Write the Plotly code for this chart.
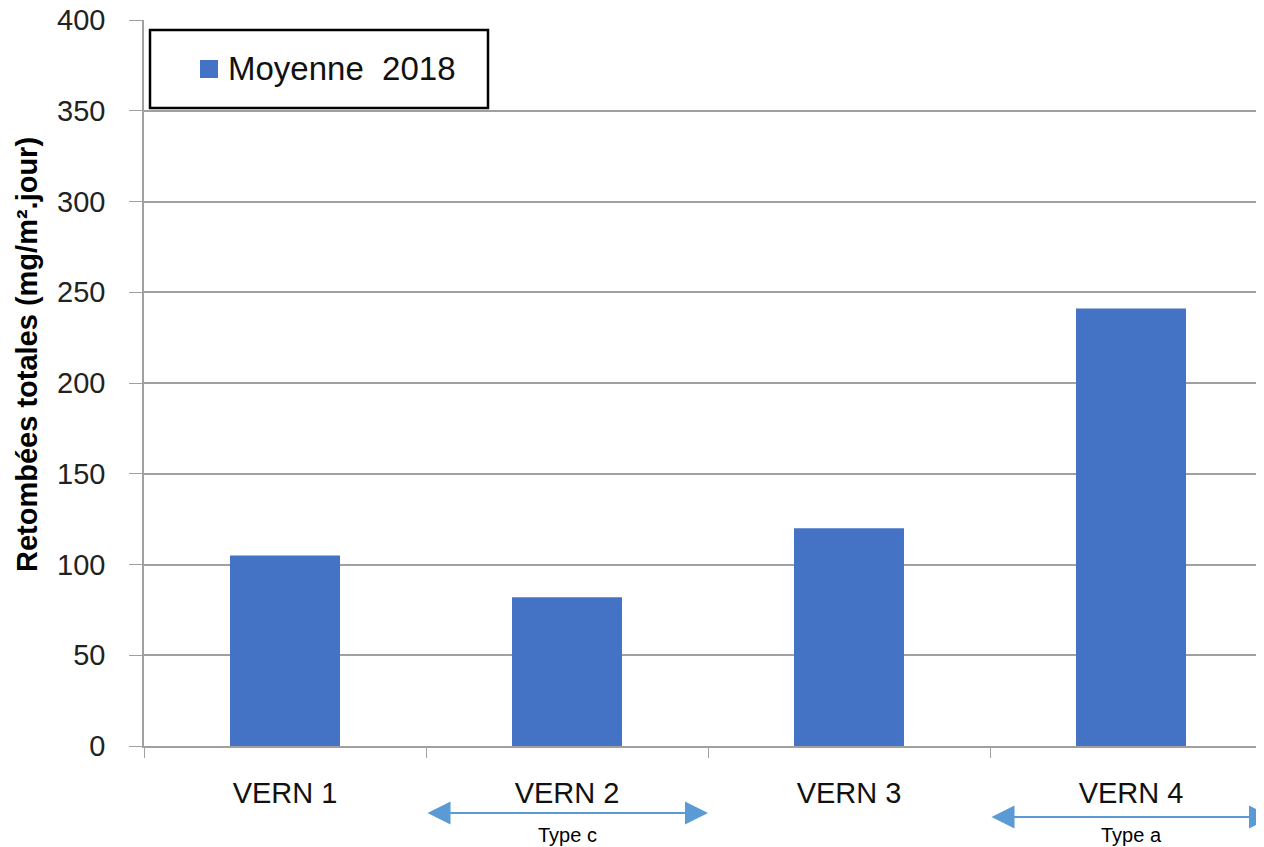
import plotly.graph_objects as go

categories = ["VERN 1", "VERN 2", "VERN 3", "VERN 4"]
values = [105, 82, 120, 241]
series_name = "Moyenne\u00a0\u00a02018"
y_title = "Retombées totales (mg/m².jour)"
type_labels = [("Type c", 0.5, 1.5, 813), ("Type a", 2.5, 3.5, 817)]

OFF = 8  # page body margin
W, H = 1264 - OFF, 847 - OFF
# plot area in page pixels: x 144..1264, y 20..746
L, T = 144 - OFF, 20 - OFF
R = 0
B = 847 - 746
pw, ph = W - L - R, H - T - B
cat_w = 282.0
xmin = -0.5
xmax = xmin + pw / cat_w

def py(pix):  # page pixel y -> paper y
    return (746 - pix) / ph

def px(pix):  # page pixel x -> paper x
    return (pix - 144) / pw

font = "Liberation Sans"
blue = "#4472C4"
fig = go.Figure()
fig.add_trace(go.Bar(x=categories, y=values, name=series_name,
                     marker=dict(color=blue, line=dict(width=0)),
                     width=0.39, showlegend=False))

annotations = []
for label, a, b, yp in type_labels:
    annotations.append(dict(x=b, y=py(yp), xref="x", yref="paper",
                            ax=a, ay=0, axref="x", ayref="pixel",
                            showarrow=True, arrowhead=2, arrowside="end+start",
                            arrowwidth=2, arrowsize=2.3, arrowcolor="#5B9BD5", text=""))
    annotations.append(dict(x=(a + b) / 2, y=py(835), xref="x", yref="paper",
                            xanchor="center", yanchor="middle",
                            text=label, showarrow=False,
                            font=dict(family=font, size=20, color="#000")))
annotations.append(dict(x=px(27), y=py(355), xref="paper", yref="paper",
                        xanchor="center", yanchor="middle",
                        text="<b>" + y_title + "</b>", textangle=-90, showarrow=False,
                        font=dict(family=font, size=29, color="#000")))
annotations.append(dict(x=px(226), y=py(69), xref="paper", yref="paper",
                        xanchor="left", yanchor="middle",
                        text=series_name, showarrow=False,
                        font=dict(family=font, size=33, color="#111")))

fig.update_layout(
    width=W, height=H,
    margin=dict(l=L, r=R, t=T, b=B, autoexpand=False),
    plot_bgcolor="white", paper_bgcolor="white",
    font=dict(family=font, color="#222"),
    showlegend=False,
    xaxis=dict(range=[xmin, xmax], showgrid=False, showline=True, linecolor="#a0a0a0",
               linewidth=1.5, ticks="outside", tickson="boundaries", ticklen=10,
               tickcolor="#a0a0a0", tickfont=dict(family=font, size=29, color="#111"),
               ticklabelstandoff=20, zeroline=False, automargin=False),
    yaxis=dict(range=[0, 400], dtick=50, showgrid=True, gridcolor="#a0a0a0", gridwidth=1.5,
               showline=True, linecolor="#a0a0a0", linewidth=1.5, ticks="outside",
               ticklen=13, tickcolor="#a0a0a0", zeroline=False, ticklabeloverflow="allow",
               automargin=False,
               tickfont=dict(family=font, size=29, color="#222"), ticklabelstandoff=18),
    shapes=[dict(type="rect", xref="paper", yref="paper",
                 x0=px(150), x1=px(488), y0=py(108), y1=py(30),
                 line=dict(color="black", width=2.5), fillcolor="white", layer="above"),
            dict(type="rect", xref="paper", yref="paper",
                 x0=px(200), x1=px(218), y0=py(78), y1=py(60),
                 line=dict(width=0), fillcolor=blue, layer="above")],
    annotations=annotations,
)
fig.write_html("out.html")
